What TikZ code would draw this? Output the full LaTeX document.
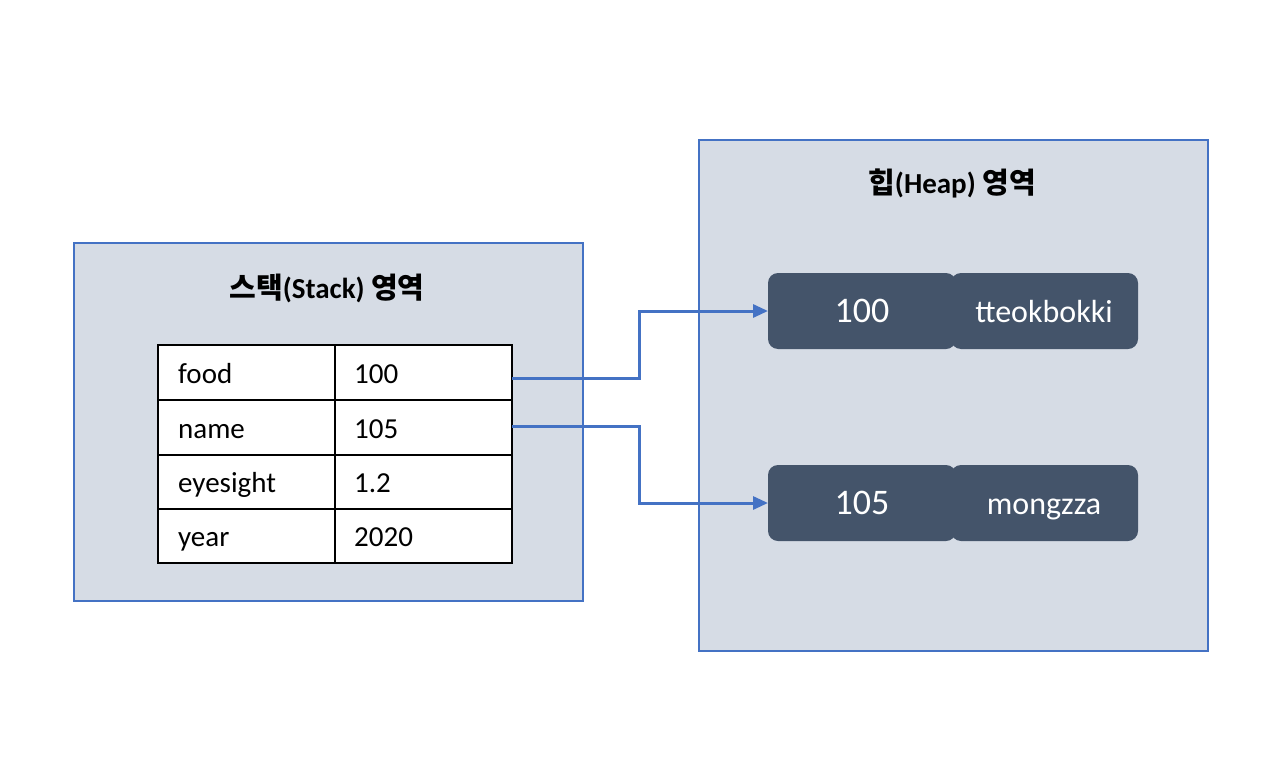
\documentclass[tikz,border=0pt]{standalone}
\usepackage{fontspec}
\setmainfont{Carlito}
\newfontfamily\cjk{Noto Sans CJK KR}
\usetikzlibrary{arrows.meta}
\definecolor{areafill}{HTML}{D6DCE5}
\definecolor{arealine}{HTML}{4472C4}
\definecolor{cellfill}{HTML}{44546A}
\tikzset{
  area/.style={draw=arealine, line width=2pt, fill=areafill},
  titletext/.style={font=\fontsize{29}{34}\selectfont\bfseries, anchor=base, inner sep=0pt},
  celltext/.style={font=\fontsize{29}{34}\selectfont, anchor=base west, inner sep=0pt},
  heapcell/.style={fill=cellfill, rounded corners=10pt},
  numtext/.style={font=\fontsize{36}{40}\selectfont, text=white, inner sep=0pt, anchor=base},
  valtext/.style={font=\fontsize{32}{36}\selectfont, text=white, inner sep=0pt, anchor=base},
  link/.style={draw=arealine, line width=3pt, -{Triangle[length=15pt,width=13pt]}},
}
\begin{document}
\begin{tikzpicture}[x=1pt,y=-1pt]
\useasboundingbox (0,0) rectangle (1276,768);
% areas
\draw[area] (74,243) rectangle (583,601);
\draw[area] (699,140) rectangle (1208,651);
\node[titletext] (stitle) at (327,298) {{\cjk\bfseries 스택}(Stack) {\cjk\bfseries 영역}};
\node[titletext] (htitle) at (952,193) {{\cjk\bfseries 힙}(Heap) {\cjk\bfseries 영역}};
% table
\draw[fill=white, line width=2pt] (158,345) rectangle (512,563);
\foreach \yy in {400,455,509} \draw[line width=2pt] (158,\yy) -- (512,\yy);
\draw[line width=2pt] (335,345) -- (335,563);
\node[celltext] (k1) at (178,383) {food};
\node[celltext] (v1) at (354,383) {100};
\node[celltext] (k2) at (178,438) {name};
\node[celltext] (v2) at (354,438) {105};
\node[celltext] (k3) at (178,492) {eyesight};
\node[celltext] (v3) at (354,492) {1.2};
\node[celltext] (k4) at (178,546) {year};
\node[celltext] (v4) at (354,546) {2020};
\coordinate (s1) at (512,378);
\coordinate (s2) at (512,426);
% heap cells
\path[heapcell] (768,273) rectangle (956,349);
\path[heapcell] (951,273) rectangle (1138,349);
\path[heapcell] (768,465) rectangle (956,541);
\path[heapcell] (951,465) rectangle (1138,541);
\node[numtext] (h1) at (862,322) {100};
\node[valtext] (h1v) at (1044,322) {tteokbokki};
\node[numtext] (h2) at (862,514) {105};
\node[valtext] (h2v) at (1044,514) {mongzza};
\coordinate (t1) at (768,311);
\coordinate (t2) at (768,503);
% links
\draw[link] (s1) -- (639,378) -- (639,311) -- (t1);
\draw[link] (s2) -- (639,426) -- (639,503) -- (t2);
\end{tikzpicture}
\end{document}
